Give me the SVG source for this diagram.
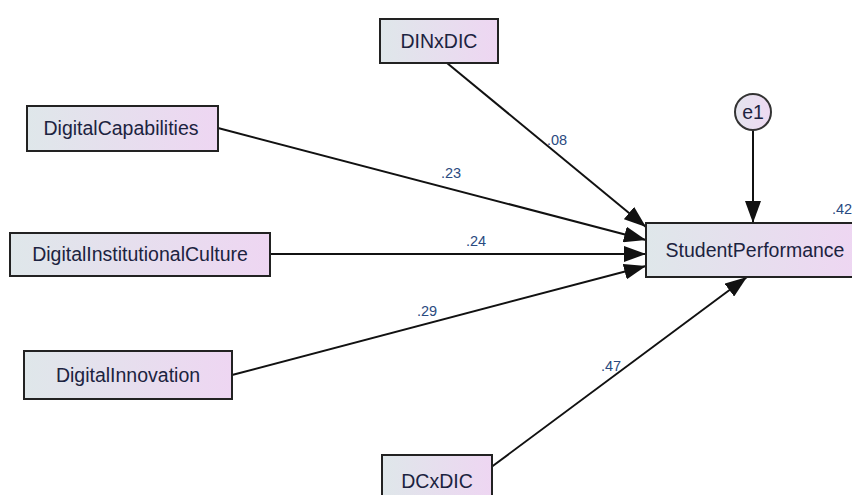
<svg xmlns="http://www.w3.org/2000/svg" width="852" height="495" viewBox="0 0 852 495">
  <defs>
    <linearGradient id="boxFill" x1="0" y1="0" x2="1" y2="0">
      <stop offset="0" stop-color="#dfe7ea"/>
      <stop offset="1" stop-color="#eed6f2"/>
    </linearGradient>
    <linearGradient id="circleFill" x1="0" y1="0" x2="1" y2="0">
      <stop offset="0" stop-color="#e4e4ee"/>
      <stop offset="1" stop-color="#eedaf2"/>
    </linearGradient>
    <marker id="arrow" viewBox="0 0 22 16" refX="22" refY="8" markerWidth="22" markerHeight="16" markerUnits="userSpaceOnUse" orient="auto">
      <path d="M0,0 L22,8 L0,16 Z" fill="#111"/>
    </marker>
  </defs>
  <style>
    .box { fill: url(#boxFill); stroke: #222; stroke-width: 2; }
    .latent { fill: url(#circleFill); stroke: #333; stroke-width: 2; }
    .name { font-family: "Liberation Sans", Arial, sans-serif; font-size: 19.5px; fill: #1c2340; text-anchor: middle; }
    .coef { font-family: "Liberation Sans", Arial, sans-serif; font-size: 14.5px; fill: #2a4a80; text-anchor: middle; }
    .path { stroke: #111; stroke-width: 2; fill: none; marker-end: url(#arrow); }
  </style>
  <rect width="852" height="495" fill="#ffffff"/>

  <g id="connectors">
    <line class="path" x1="447" y1="63" x2="646" y2="227"/>
    <line class="path" x1="218" y1="128" x2="646" y2="240"/>
    <line class="path" x1="270" y1="254" x2="646" y2="254"/>
    <line class="path" x1="232" y1="375" x2="646" y2="266"/>
    <line class="path" x1="490" y1="468" x2="747" y2="277"/>
    <line class="path" x1="753" y1="130" x2="753" y2="223"/>
    <text class="coef" x="557" y="145">.08</text>
    <text class="coef" x="451" y="178">.23</text>
    <text class="coef" x="476" y="246">.24</text>
    <text class="coef" x="427" y="316">.29</text>
    <text class="coef" x="611" y="371">.47</text>
    <text class="coef" x="842" y="214">.42</text>
  </g>

  <g id="DINxDIC">
    <rect class="box" x="380" y="19" width="118" height="44"/>
    <text class="name" x="439" y="48">DINxDIC</text>
  </g>
  <g id="DigitalCapabilities">
    <rect class="box" x="27" y="106" width="191" height="45"/>
    <text class="name" x="121" y="135">DigitalCapabilities</text>
  </g>
  <g id="DigitalInstitutionalCulture">
    <rect class="box" x="10" y="233" width="260" height="43"/>
    <text class="name" x="140" y="261">DigitalInstitutionalCulture</text>
  </g>
  <g id="DigitalInnovation">
    <rect class="box" x="24" y="351" width="208" height="48"/>
    <text class="name" x="128" y="382">DigitalInnovation</text>
  </g>
  <g id="DCxDIC">
    <rect class="box" x="382" y="455" width="110" height="48"/>
    <text class="name" x="437" y="488">DCxDIC</text>
  </g>
  <g id="StudentPerformance">
    <rect class="box" x="646" y="223" width="212" height="54"/>
    <text class="name" x="755" y="257">StudentPerformance</text>
  </g>
  <g id="e1">
    <circle class="latent" cx="753" cy="112" r="18"/>
    <text class="name" x="753" y="119">e1</text>
  </g>
</svg>
